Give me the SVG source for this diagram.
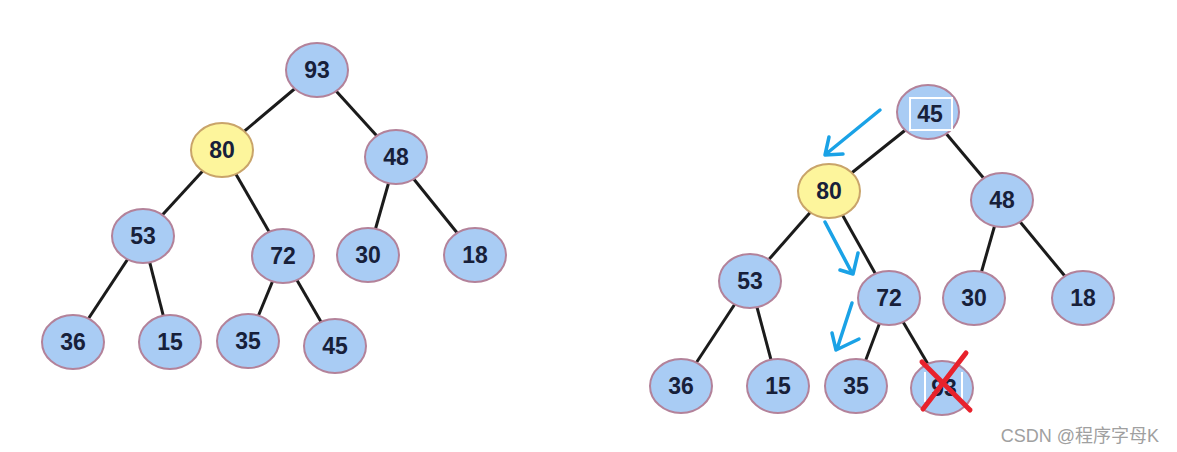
<svg xmlns="http://www.w3.org/2000/svg" width="1177" height="452" viewBox="0 0 1177 452">
<defs>
<style>
.n ellipse{fill:#a9ccf4;stroke:#b3829a;stroke-width:2}
.y ellipse{fill:#fdf59c;stroke:#c9a46a;stroke-width:2}
text.t{font-family:"Liberation Sans",Arial,sans-serif;font-weight:bold;font-size:23px;fill:#17203a;text-anchor:middle;dominant-baseline:central}
#edges line{stroke:#1b1b1b;stroke-width:3}
.ar{fill:none;stroke:#1aa2e6;stroke-width:3.5;stroke-linecap:round;stroke-linejoin:round}
.x{stroke:#e8222c;stroke-width:5;stroke-linecap:round}
</style>
</defs>
<rect width="1177" height="452" fill="#ffffff"/>
<g id="edges">
<line x1="317" y1="70" x2="222" y2="150"/>
<line x1="317" y1="70" x2="396" y2="157"/>
<line x1="222" y1="150" x2="143" y2="236"/>
<line x1="222" y1="150" x2="283" y2="256"/>
<line x1="396" y1="157" x2="368" y2="255"/>
<line x1="396" y1="157" x2="475" y2="255"/>
<line x1="143" y1="236" x2="73" y2="342"/>
<line x1="143" y1="236" x2="170" y2="342"/>
<line x1="283" y1="256" x2="248" y2="341"/>
<line x1="283" y1="256" x2="335" y2="346"/>
<line x1="928" y1="112" x2="829" y2="191"/>
<line x1="928" y1="112" x2="1002" y2="200"/>
<line x1="829" y1="191" x2="750" y2="281"/>
<line x1="829" y1="191" x2="889" y2="298"/>
<line x1="1002" y1="200" x2="974" y2="298"/>
<line x1="1002" y1="200" x2="1083" y2="298"/>
<line x1="750" y1="281" x2="681" y2="386"/>
<line x1="750" y1="281" x2="778" y2="386"/>
<line x1="889" y1="298" x2="856" y2="386"/>
<line x1="889" y1="298" x2="942" y2="388"/>
</g>
<g id="L93" class="n"><ellipse cx="317" cy="70" rx="31" ry="27"/><text class="t" x="317" y="70">93</text></g>
<g id="L80" class="y"><ellipse cx="222" cy="150" rx="31" ry="27"/><text class="t" x="222" y="150">80</text></g>
<g id="L48" class="n"><ellipse cx="396" cy="157" rx="31" ry="27"/><text class="t" x="396" y="157">48</text></g>
<g id="L53" class="n"><ellipse cx="143" cy="236" rx="31" ry="27"/><text class="t" x="143" y="236">53</text></g>
<g id="L72" class="n"><ellipse cx="283" cy="256" rx="31" ry="27"/><text class="t" x="283" y="256">72</text></g>
<g id="L30" class="n"><ellipse cx="368" cy="255" rx="31" ry="27"/><text class="t" x="368" y="255">30</text></g>
<g id="L18" class="n"><ellipse cx="475" cy="255" rx="31" ry="27"/><text class="t" x="475" y="255">18</text></g>
<g id="L36" class="n"><ellipse cx="73" cy="342" rx="31" ry="27"/><text class="t" x="73" y="342">36</text></g>
<g id="L15" class="n"><ellipse cx="170" cy="342" rx="31" ry="27"/><text class="t" x="170" y="342">15</text></g>
<g id="L35" class="n"><ellipse cx="248" cy="341" rx="31" ry="27"/><text class="t" x="248" y="341">35</text></g>
<g id="L45" class="n"><ellipse cx="335" cy="346" rx="31" ry="27"/><text class="t" x="335" y="346">45</text></g>

<g id="R45" class="n"><ellipse cx="928" cy="112" rx="31" ry="27"/><rect x="910" y="98" width="42" height="32" fill="none" stroke="#ffffff" stroke-width="2"/><text class="t" x="930" y="114">45</text></g>
<g id="R80" class="y"><ellipse cx="829" cy="191" rx="31" ry="27"/><text class="t" x="829" y="191">80</text></g>
<g id="R48" class="n"><ellipse cx="1002" cy="200" rx="31" ry="27"/><text class="t" x="1002" y="200">48</text></g>
<g id="R53" class="n"><ellipse cx="750" cy="281" rx="31" ry="27"/><text class="t" x="750" y="281">53</text></g>
<g id="R72" class="n"><ellipse cx="889" cy="298" rx="31" ry="27"/><text class="t" x="889" y="298">72</text></g>
<g id="R30" class="n"><ellipse cx="974" cy="298" rx="31" ry="27"/><text class="t" x="974" y="298">30</text></g>
<g id="R18" class="n"><ellipse cx="1083" cy="298" rx="31" ry="27"/><text class="t" x="1083" y="298">18</text></g>
<g id="R36" class="n"><ellipse cx="681" cy="386" rx="31" ry="27"/><text class="t" x="681" y="386">36</text></g>
<g id="R15" class="n"><ellipse cx="778" cy="386" rx="31" ry="27"/><text class="t" x="778" y="386">15</text></g>
<g id="R35" class="n"><ellipse cx="856" cy="386" rx="31" ry="27"/><text class="t" x="856" y="386">35</text></g>
<g id="R93" class="n"><ellipse cx="942" cy="388" rx="31" ry="27"/><line x1="925" y1="372" x2="925" y2="402" stroke="#ffffff" stroke-width="2"/><line x1="962" y1="372" x2="962" y2="402" stroke="#ffffff" stroke-width="2"/><text class="t" x="944" y="388">93</text>
<line class="x" x1="922" y1="362" x2="970" y2="410"/><line class="x" x1="966" y1="353" x2="923" y2="409"/></g>

<g id="arrows">
<path class="ar" d="M880 110 L826 154 M829 137 L825 155 L843 154"/>
<path class="ar" d="M825 222 L852 273 M858 253 L853 274 L840 270"/>
<path class="ar" d="M852 303 L837 349 M832 333 L836 350 L859 339"/>
</g>
<text x="1080" y="442" font-family="Liberation Sans,'Noto Sans CJK SC',sans-serif" font-size="18" fill="#a0a0a0" text-anchor="middle">CSDN @程序字母K</text>
</svg>
